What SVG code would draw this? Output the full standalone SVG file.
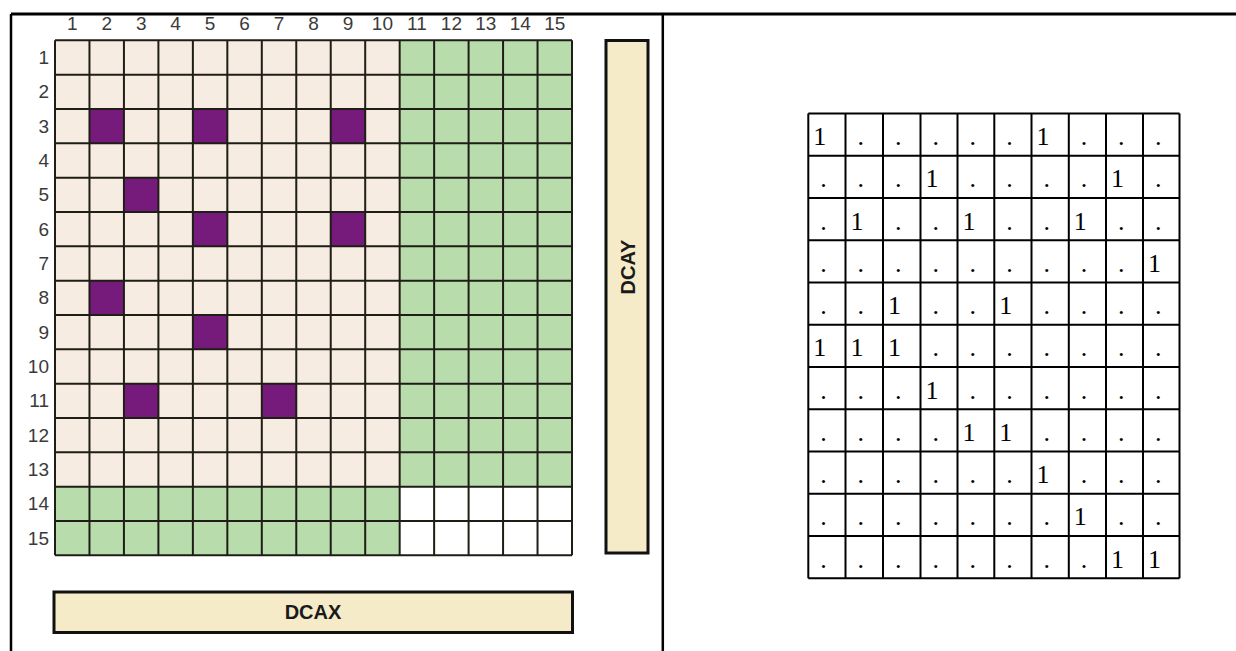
<svg xmlns="http://www.w3.org/2000/svg" width="1236" height="651" viewBox="0 0 1236 651">
<style>
.lbl{font-family:"Liberation Sans",Arial,sans-serif;font-size:19px;fill:#3a3a3a;}
.bar{fill:#f6ebc9;stroke:#111;stroke-width:3;}
.bartxt{font-family:"Liberation Sans",Arial,sans-serif;font-size:20px;font-weight:bold;fill:#1a1a1a;text-anchor:middle;}
.beige{fill:#f7ece1;}
.green{fill:#b8dcac;}
.purple{fill:#761a7b;}
.gl{stroke:#1e1e16;stroke-width:2;fill:none;}
.tl{stroke:#000;stroke-width:2;fill:none;}
.tt{font-family:"Liberation Serif","Times New Roman",serif;font-size:26px;fill:#000;}
</style>
<rect width="1236" height="651" fill="#fff"/>
<g id="frame" stroke="#000" fill="none">
<line x1="11" y1="14" x2="1236" y2="14" stroke-width="3"/>
<line x1="11" y1="14" x2="11" y2="651" stroke-width="2.5"/>
<line x1="662.8" y1="14" x2="662.8" y2="651" stroke-width="2.5"/>
</g>
<g id="grid">
<rect class="beige" x="55" y="40.3" width="344.67" height="446.33"/>
<rect class="green" x="399.67" y="40.3" width="172.33" height="446.33"/>
<rect class="green" x="55" y="486.63" width="344.67" height="68.67"/>
<rect class="purple" x="89.47" y="108.97" width="34.47" height="34.33"/>
<rect class="purple" x="192.87" y="108.97" width="34.47" height="34.33"/>
<rect class="purple" x="330.73" y="108.97" width="34.47" height="34.33"/>
<rect class="purple" x="123.93" y="177.63" width="34.47" height="34.33"/>
<rect class="purple" x="192.87" y="211.97" width="34.47" height="34.33"/>
<rect class="purple" x="330.73" y="211.97" width="34.47" height="34.33"/>
<rect class="purple" x="89.47" y="280.63" width="34.47" height="34.33"/>
<rect class="purple" x="192.87" y="314.97" width="34.47" height="34.33"/>
<rect class="purple" x="123.93" y="383.63" width="34.47" height="34.33"/>
<rect class="purple" x="261.8" y="383.63" width="34.47" height="34.33"/>
<path class="gl" d="M55 40.3V555.3M89.47 40.3V555.3M123.93 40.3V555.3M158.4 40.3V555.3M192.87 40.3V555.3M227.33 40.3V555.3M261.8 40.3V555.3M296.27 40.3V555.3M330.73 40.3V555.3M365.2 40.3V555.3M399.67 40.3V555.3M434.13 40.3V555.3M468.6 40.3V555.3M503.07 40.3V555.3M537.53 40.3V555.3M572 40.3V555.3M55 40.3H572M55 74.63H572M55 108.97H572M55 143.3H572M55 177.63H572M55 211.97H572M55 246.3H572M55 280.63H572M55 314.97H572M55 349.3H572M55 383.63H572M55 417.97H572M55 452.3H572M55 486.63H572M55 520.97H572M55 555.3H572"/>
<g class="lbl" text-anchor="middle">
<text x="72.2" y="30">1</text><text x="106.7" y="30">2</text><text x="141.2" y="30">3</text><text x="175.6" y="30">4</text><text x="210.1" y="30">5</text><text x="244.6" y="30">6</text><text x="279" y="30">7</text><text x="313.5" y="30">8</text><text x="348" y="30">9</text><text x="382.4" y="30">10</text><text x="416.9" y="30">11</text><text x="451.4" y="30">12</text><text x="485.8" y="30">13</text><text x="520.3" y="30">14</text><text x="554.8" y="30">15</text>
</g>
<g class="lbl" text-anchor="end">
<text x="49" y="64">1</text><text x="49" y="98.3">2</text><text x="49" y="132.6">3</text><text x="49" y="167">4</text><text x="49" y="201.3">5</text><text x="49" y="235.6">6</text><text x="49" y="270">7</text><text x="49" y="304.3">8</text><text x="49" y="338.6">9</text><text x="49" y="373">10</text><text x="49" y="407.3">11</text><text x="49" y="441.6">12</text><text x="49" y="476">13</text><text x="49" y="510.3">14</text><text x="49" y="544.6">15</text>
</g>
</g>
<g id="DCAY">
<rect class="bar" x="606" y="40.5" width="42" height="512.5"/>
<text class="bartxt" transform="translate(634.5,267) rotate(-90)">DCAY</text>
</g>
<g id="DCAX">
<rect class="bar" x="54" y="592" width="518.5" height="40.5"/>
<text class="bartxt" x="313" y="619">DCAX</text>
</g>
<g id="table">
<path class="tl" d="M808.3 113.5V578.3M845.5 113.5V578.3M883 113.5V578.3M920.5 113.5V578.3M957.5 113.5V578.3M994.3 113.5V578.3M1031.5 113.5V578.3M1068.8 113.5V578.3M1106 113.5V578.3M1143 113.5V578.3M1179.5 113.5V578.3M808.3 113.5H1179.5M808.3 155.75H1179.5M808.3 198H1179.5M808.3 240.25H1179.5M808.3 282.5H1179.5M808.3 324.75H1179.5M808.3 367H1179.5M808.3 409.25H1179.5M808.3 451.5H1179.5M808.3 493.75H1179.5M808.3 536H1179.5M808.3 578.3H1179.5"/>
<g class="tt">
<text x="813.3" y="145">1</text><text x="857.5" y="145">.</text><text x="895" y="145">.</text><text x="932.5" y="145">.</text><text x="969.5" y="145">.</text><text x="1006.3" y="145">.</text><text x="1036.5" y="145">1</text><text x="1080.8" y="145">.</text><text x="1118" y="145">.</text><text x="1155" y="145">.</text>
<text x="820.3" y="187.25">.</text><text x="857.5" y="187.25">.</text><text x="895" y="187.25">.</text><text x="925.5" y="187.25">1</text><text x="969.5" y="187.25">.</text><text x="1006.3" y="187.25">.</text><text x="1043.5" y="187.25">.</text><text x="1080.8" y="187.25">.</text><text x="1111" y="187.25">1</text><text x="1155" y="187.25">.</text>
<text x="820.3" y="229.5">.</text><text x="850.5" y="229.5">1</text><text x="895" y="229.5">.</text><text x="932.5" y="229.5">.</text><text x="962.5" y="229.5">1</text><text x="1006.3" y="229.5">.</text><text x="1043.5" y="229.5">.</text><text x="1073.8" y="229.5">1</text><text x="1118" y="229.5">.</text><text x="1155" y="229.5">.</text>
<text x="820.3" y="271.75">.</text><text x="857.5" y="271.75">.</text><text x="895" y="271.75">.</text><text x="932.5" y="271.75">.</text><text x="969.5" y="271.75">.</text><text x="1006.3" y="271.75">.</text><text x="1043.5" y="271.75">.</text><text x="1080.8" y="271.75">.</text><text x="1118" y="271.75">.</text><text x="1148" y="271.75">1</text>
<text x="820.3" y="314">.</text><text x="857.5" y="314">.</text><text x="888" y="314">1</text><text x="932.5" y="314">.</text><text x="969.5" y="314">.</text><text x="999.3" y="314">1</text><text x="1043.5" y="314">.</text><text x="1080.8" y="314">.</text><text x="1118" y="314">.</text><text x="1155" y="314">.</text>
<text x="813.3" y="356.25">1</text><text x="850.5" y="356.25">1</text><text x="888" y="356.25">1</text><text x="932.5" y="356.25">.</text><text x="969.5" y="356.25">.</text><text x="1006.3" y="356.25">.</text><text x="1043.5" y="356.25">.</text><text x="1080.8" y="356.25">.</text><text x="1118" y="356.25">.</text><text x="1155" y="356.25">.</text>
<text x="820.3" y="398.5">.</text><text x="857.5" y="398.5">.</text><text x="895" y="398.5">.</text><text x="925.5" y="398.5">1</text><text x="969.5" y="398.5">.</text><text x="1006.3" y="398.5">.</text><text x="1043.5" y="398.5">.</text><text x="1080.8" y="398.5">.</text><text x="1118" y="398.5">.</text><text x="1155" y="398.5">.</text>
<text x="820.3" y="440.75">.</text><text x="857.5" y="440.75">.</text><text x="895" y="440.75">.</text><text x="932.5" y="440.75">.</text><text x="962.5" y="440.75">1</text><text x="999.3" y="440.75">1</text><text x="1043.5" y="440.75">.</text><text x="1080.8" y="440.75">.</text><text x="1118" y="440.75">.</text><text x="1155" y="440.75">.</text>
<text x="820.3" y="483">.</text><text x="857.5" y="483">.</text><text x="895" y="483">.</text><text x="932.5" y="483">.</text><text x="969.5" y="483">.</text><text x="1006.3" y="483">.</text><text x="1036.5" y="483">1</text><text x="1080.8" y="483">.</text><text x="1118" y="483">.</text><text x="1155" y="483">.</text>
<text x="820.3" y="525.25">.</text><text x="857.5" y="525.25">.</text><text x="895" y="525.25">.</text><text x="932.5" y="525.25">.</text><text x="969.5" y="525.25">.</text><text x="1006.3" y="525.25">.</text><text x="1043.5" y="525.25">.</text><text x="1073.8" y="525.25">1</text><text x="1118" y="525.25">.</text><text x="1155" y="525.25">.</text>
<text x="820.3" y="567.5">.</text><text x="857.5" y="567.5">.</text><text x="895" y="567.5">.</text><text x="932.5" y="567.5">.</text><text x="969.5" y="567.5">.</text><text x="1006.3" y="567.5">.</text><text x="1043.5" y="567.5">.</text><text x="1080.8" y="567.5">.</text><text x="1111" y="567.5">1</text><text x="1148" y="567.5">1</text>
</g>
</g>
</svg>
